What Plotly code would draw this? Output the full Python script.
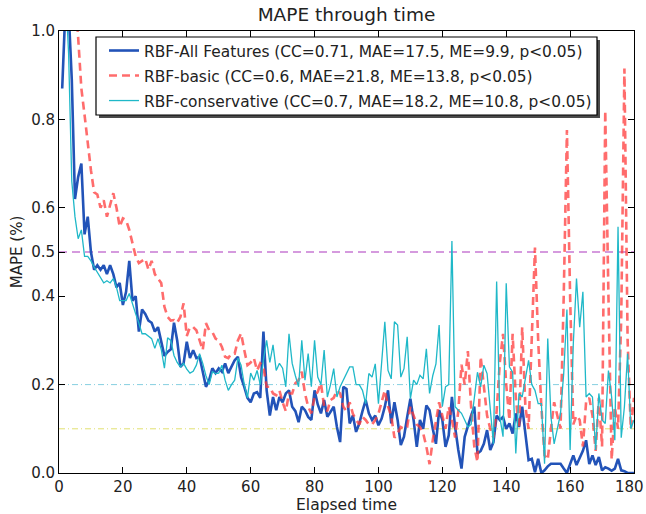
import plotly.graph_objects as go

elapsed = list(range(1, 181))

rbf_all = [0.87,1.05,1.05,0.89,0.62,0.67,0.70,0.54,0.58,0.50,
0.46,0.47,0.46,0.47,0.45,0.47,0.45,0.42,0.43,0.38,
0.41,0.48,0.39,0.40,0.32,0.37,0.36,0.345,0.34,0.32,
0.33,0.30,0.265,0.274,0.28,0.34,0.30,0.24,0.248,0.297,
0.26,0.278,0.26,0.263,0.23,0.195,0.21,0.237,0.226,0.237,
0.229,0.248,0.226,0.24,0.255,0.263,0.217,0.195,0.17,0.16,
0.18,0.183,0.17,0.32,0.187,0.13,0.172,0.142,0.172,0.16,
0.18,0.187,0.15,0.14,0.115,0.15,0.142,0.127,0.12,0.187,
0.155,0.135,0.165,0.127,0.14,0.15,0.104,0.07,0.195,0.19,
0.112,0.13,0.093,0.112,0.14,0.165,0.135,0.12,0.13,0.108,
0.123,0.15,0.187,0.112,0.16,0.12,0.063,0.082,0.127,0.168,
0.12,0.059,0.12,0.10,0.153,0.142,0.10,0.066,0.142,0.12,
0.059,0.085,0.172,0.104,0.052,0.01,0.082,0.108,0.13,0.15,
0.044,0.05,0.066,0.097,0.052,0.07,0.13,0.12,0.127,0.10,
0.112,0.089,0.135,0.104,0.15,0.089,0.029,0.032,0.002,0.032,
0.0,0.006,0.015,0.021,0.021,0.021,0.021,0.01,0.0,0.02,
0.04,0.018,0.036,0.05,0.074,0.02,0.04,0.018,0.036,0.006,
0.013,0.01,0.005,0.01,0.032,0.006,0.004,0.0,0.0,0.0]

rbf_basic = [1.2,1.2,1.2,1.2,1.1,0.97,0.87,0.81,0.74,0.685,
0.635,0.63,0.60,0.617,0.58,0.61,0.633,0.60,0.557,0.576,
0.572,0.55,0.52,0.49,0.475,0.48,0.485,0.46,0.48,0.45,
0.44,0.43,0.376,0.353,0.345,0.346,0.34,0.353,0.384,0.31,
0.33,0.33,0.323,0.30,0.278,0.339,0.323,0.319,0.304,0.30,
0.285,0.263,0.26,0.27,0.27,0.30,0.316,0.278,0.244,0.25,
0.26,0.232,0.248,0.24,0.195,0.195,0.18,0.176,0.187,0.16,
0.14,0.18,0.18,0.203,0.21,0.229,0.18,0.15,0.135,0.172,
0.184,0.203,0.15,0.14,0.165,0.17,0.187,0.18,0.15,0.14,
0.16,0.134,0.12,0.11,0.127,0.12,0.11,0.11,0.12,0.134,
0.16,0.187,0.15,0.13,0.08,0.09,0.104,0.10,0.104,0.15,
0.13,0.11,0.104,0.09,0.06,0.02,0.074,0.12,0.16,0.13,
0.10,0.15,0.12,0.08,0.14,0.245,0.20,0.276,0.15,0.06,
0.025,0.263,0.20,0.13,0.10,0.08,0.14,0.25,0.315,0.20,
0.12,0.315,0.17,0.10,0.33,0.15,0.10,0.30,0.51,0.30,
0.15,0.04,0.03,0.10,0.16,0.13,0.10,0.40,0.776,0.40,
0.11,0.13,0.12,0.06,0.16,0.17,0.13,0.05,0.17,0.06,
0.82,0.40,0.03,0.15,0.10,0.35,0.915,0.30,0.10,0.17]

rbf_conservative = [1.1,1.1,0.95,0.66,0.58,0.53,0.55,0.49,0.49,0.48,
0.466,0.455,0.444,0.43,0.435,0.43,0.44,0.42,0.39,0.39,
0.39,0.406,0.38,0.36,0.339,0.315,0.315,0.31,0.304,0.282,
0.304,0.28,0.237,0.306,0.30,0.266,0.25,0.24,0.248,0.235,
0.226,0.23,0.244,0.27,0.248,0.22,0.20,0.229,0.225,0.226,
0.244,0.21,0.187,0.20,0.21,0.26,0.244,0.20,0.17,0.226,
0.21,0.232,0.20,0.256,0.30,0.25,0.29,0.232,0.248,0.237,
0.195,0.315,0.248,0.22,0.195,0.30,0.21,0.27,0.195,0.30,
0.217,0.20,0.278,0.172,0.20,0.236,0.172,0.195,0.21,0.225,
0.24,0.24,0.20,0.20,0.187,0.157,0.225,0.217,0.247,0.157,
0.247,0.342,0.232,0.213,0.342,0.335,0.217,0.236,0.308,0.168,
0.21,0.20,0.221,0.213,0.281,0.18,0.22,0.247,0.335,0.15,
0.195,0.20,0.525,0.15,0.142,0.135,0.12,0.104,0.11,0.165,
0.228,0.195,0.244,0.225,0.142,0.066,0.433,0.127,0.082,0.429,
0.24,0.228,0.044,0.18,0.172,0.217,0.255,0.20,0.187,0.157,
0.157,0.021,0.304,0.127,0.066,0.10,0.135,0.225,0.37,0.052,
0.293,0.44,0.33,0.41,0.172,0.18,0.172,0.052,0.18,0.12,
0.112,0.232,0.172,0.074,0.557,0.08,0.15,0.27,0.10,0.12]

series_names = [
    "RBF-All Features (CC=0.71, MAE=17.5, ME=9.9, p<0.05)",
    "RBF-basic (CC=0.6, MAE=21.8, ME=13.8, p<0.05)",
    "RBF-conservative (CC=0.7, MAE=18.2, ME=10.8, p<0.05)",
]

thresholds = [0.5, 0.2, 0.1]
threshold_styles = [
    dict(color="#c87ad4", width=1.6, dash="8px,5px"),
    dict(color="#86cfe0", width=1.0, dash="6px,3px,1px,3px"),
    dict(color="#e2e070", width=1.0, dash="6px,3px,1px,3px"),
]

y_ticks = [0.0, 0.2, 0.4, 0.5, 0.6, 0.8, 1.0]
y_ticktext = ["0.0", "0.2", "0.4", "0.5", "0.6", "0.8", "1.0"]
x_ticks = [0, 20, 40, 60, 80, 100, 120, 140, 160, 180]
# last label padded with non-breaking spaces so it stays inside the page
x_ticktext = ["0", "20", "40", "60", "80", "100", "120", "140", "160", "180\u00a0\u00a0"]

FONT = "DejaVu Sans"
W, H = 646, 514
L, R, T, B = 59, 12, 31, 41
PW, PH = W - L - R, H - T - B


def px_to_paper_x(px):
    return (px - L) / PW


def px_to_paper_y(py):
    return (H - B - py) / PH


fig = go.Figure()

fig.add_trace(go.Scatter(x=elapsed, y=rbf_all, mode="lines", name=series_names[0],
                         legendgroup="a",
                         line=dict(color="#2253b8", width=2.6)))
fig.add_trace(go.Scatter(x=elapsed, y=rbf_basic, mode="lines", name=series_names[1],
                         legendgroup="b", opacity=0.75,
                         line=dict(color="#ff3b3b", width=2.6, dash="8px,5px")))
fig.add_trace(go.Scatter(x=elapsed, y=rbf_conservative, mode="lines", name=series_names[2],
                         legendgroup="c",
                         line=dict(color="#1fb8c8", width=1.3)))

for t, st in zip(thresholds, threshold_styles):
    fig.add_shape(type="line", xref="paper", x0=0, x1=1, yref="y", y0=t, y1=t,
                  line=st, layer="below")

# legend shadow and frame (legend itself is drawn transparent on top)
fig.add_shape(type="rect", xref="paper", yref="paper",
              x0=px_to_paper_x(99), x1=px_to_paper_x(600),
              y0=px_to_paper_y(118), y1=px_to_paper_y(40),
              fillcolor="#4a4a4a", line=dict(width=0), layer="above")
fig.add_shape(type="rect", xref="paper", yref="paper",
              x0=px_to_paper_x(96), x1=px_to_paper_x(597),
              y0=px_to_paper_y(115), y1=px_to_paper_y(37),
              fillcolor="white", line=dict(color="black", width=1.2), layer="above")

fig.update_layout(
    width=W, height=H,
    margin=dict(l=L, r=R, t=T, b=B, autoexpand=False),
    paper_bgcolor="white", plot_bgcolor="white",
    font=dict(family=FONT, size=15, color="#222222"),
    title=dict(text="MAPE through time", x=0.5, xref="paper", xanchor="center",
               y=1 - 15 / H, yanchor="middle", font=dict(size=18.5, family=FONT)),
    showlegend=True,
    legend=dict(x=px_to_paper_x(104), y=px_to_paper_y(34), xanchor="left", yanchor="top",
                bgcolor="rgba(0,0,0,0)", borderwidth=0,
                font=dict(size=15.4, family=FONT, color="#222222"),
                traceorder="grouped", tracegroupgap=2, itemwidth=30),
    xaxis=dict(range=[0, 180], tickvals=x_ticks, ticktext=x_ticktext, ticks="inside",
               ticklen=6, tickcolor="black", showline=True, linecolor="black",
               linewidth=1, mirror="allticks", showgrid=False, zeroline=False,
               automargin=False, ticklabeloverflow="allow",
               title=dict(text="Elapsed time", font=dict(size=15.5), standoff=0),
               tickfont=dict(size=15)),
    yaxis=dict(range=[0, 1.0], tickvals=y_ticks, ticktext=y_ticktext, ticks="inside",
               ticklen=6, tickcolor="black", showline=True, linecolor="black",
               linewidth=1, mirror="allticks", showgrid=False, zeroline=False,
               automargin=False, ticklabeloverflow="allow",
               title=dict(text="MAPE (%)", font=dict(size=15), standoff=4),
               tickfont=dict(size=15)),
)

fig.write_html("out.html",
               config={"displayModeBar": False},
               post_script="document.body.style.margin='0px';"
                           "document.body.style.overflow='hidden';")
